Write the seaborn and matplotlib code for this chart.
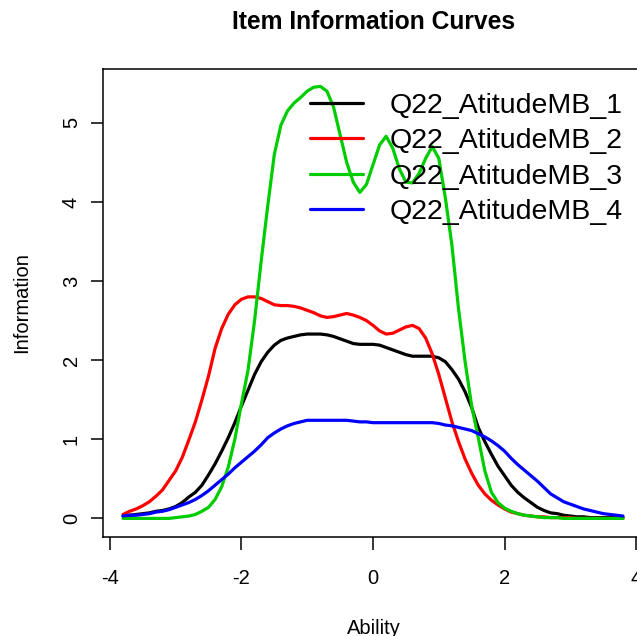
import numpy as np
import pandas as pd
import matplotlib
matplotlib.use("Agg")
import matplotlib.pyplot as plt
from matplotlib.lines import Line2D
import seaborn as sns

# Ability grid (-3.8 .. 3.8, step 0.1)
ability = np.round(np.linspace(-3.8, 3.8, 77), 1)

items = ["Q22_AtitudeMB_1", "Q22_AtitudeMB_2", "Q22_AtitudeMB_3", "Q22_AtitudeMB_4"]
colors = ["#000000", "#FF0000", "#00CD00", "#0000FF"]

info_q1 = [0.03, 0.04, 0.05, 0.06, 0.07, 0.09, 0.10, 0.12, 0.15, 0.20,
           0.27, 0.33, 0.42, 0.55, 0.69, 0.85, 1.02, 1.21, 1.42, 1.62,
           1.82, 1.98, 2.10, 2.19, 2.25, 2.28, 2.30, 2.32, 2.33, 2.33,
           2.33, 2.32, 2.30, 2.27, 2.24, 2.21, 2.20, 2.20, 2.20, 2.19,
           2.16, 2.13, 2.10, 2.07, 2.05, 2.05, 2.05, 2.05, 2.03, 1.98,
           1.88, 1.76, 1.60, 1.40, 1.15, 0.97, 0.81, 0.66, 0.54, 0.42,
           0.33, 0.26, 0.20, 0.14, 0.10, 0.07, 0.06, 0.04, 0.03, 0.02,
           0.02, 0.01, 0.01, 0.01, 0.01, 0.01, 0.01]

info_q2 = [0.05, 0.09, 0.12, 0.16, 0.21, 0.28, 0.36, 0.48, 0.60, 0.77,
           0.99, 1.22, 1.50, 1.80, 2.15, 2.40, 2.58, 2.70, 2.77, 2.80,
           2.80, 2.78, 2.74, 2.70, 2.69, 2.69, 2.68, 2.66, 2.63, 2.60,
           2.56, 2.54, 2.55, 2.57, 2.59, 2.57, 2.54, 2.50, 2.44, 2.37,
           2.33, 2.34, 2.38, 2.42, 2.44, 2.40, 2.28, 2.08, 1.82, 1.52,
           1.22, 0.97, 0.75, 0.57, 0.42, 0.31, 0.23, 0.17, 0.12, 0.08,
           0.06, 0.04, 0.03, 0.02, 0.02, 0.01, 0.01, 0.01, 0.01, 0.00,
           0.00, 0.00, 0.00, 0.00, 0.00, 0.00, 0.00]

info_q3 = [0.00, 0.00, 0.00, 0.00, 0.00, 0.00, 0.00, 0.00, 0.01, 0.02,
           0.03, 0.05, 0.09, 0.14, 0.24, 0.40, 0.65, 1.00, 1.45, 1.87,
           2.50, 3.25, 3.95, 4.60, 4.97, 5.15, 5.25, 5.32, 5.40, 5.45,
           5.46, 5.40, 5.20, 4.85, 4.50, 4.25, 4.12, 4.22, 4.47, 4.72,
           4.83, 4.68, 4.42, 4.25, 4.24, 4.36, 4.55, 4.70, 4.55, 4.05,
           3.45, 2.65, 1.98, 1.42, 1.02, 0.60, 0.33, 0.20, 0.13, 0.09,
           0.06, 0.04, 0.03, 0.02, 0.01, 0.01, 0.01, 0.00, 0.00, 0.00,
           0.00, 0.00, 0.00, 0.00, 0.00, 0.00, 0.00]

info_q4 = [0.03, 0.04, 0.04, 0.05, 0.06, 0.08, 0.09, 0.11, 0.14, 0.17,
           0.20, 0.24, 0.29, 0.35, 0.42, 0.49, 0.56, 0.64, 0.71, 0.78,
           0.85, 0.93, 1.02, 1.08, 1.13, 1.17, 1.20, 1.22, 1.24, 1.24,
           1.24, 1.24, 1.24, 1.24, 1.24, 1.23, 1.22, 1.22, 1.21, 1.21,
           1.21, 1.21, 1.21, 1.21, 1.21, 1.21, 1.21, 1.21, 1.20, 1.18,
           1.17, 1.15, 1.13, 1.11, 1.07, 1.03, 0.98, 0.92, 0.85, 0.76,
           0.68, 0.61, 0.54, 0.47, 0.39, 0.31, 0.26, 0.21, 0.18, 0.15,
           0.12, 0.10, 0.08, 0.06, 0.05, 0.04, 0.03]

df = pd.concat([
    pd.DataFrame({"Ability": ability, "Information": vals, "Item": name})
    for name, vals in zip(items, [info_q1, info_q2, info_q3, info_q4])
])

sns.set_theme(style="ticks")
plt.rcParams["font.family"] = ["Liberation Sans", "DejaVu Sans"]
plt.rcParams["text.color"] = "black"
plt.rcParams["axes.labelcolor"] = "black"

fig = plt.figure(figsize=(6.37, 6.36), dpi=100)
W, H = 637, 636
left, right, top, bottom = 103, 643, 69, 537
ax = fig.add_axes([left / W, 1 - bottom / H, (right - left) / W, (bottom - top) / H])

sns.lineplot(data=df, x="Ability", y="Information", hue="Item",
             palette=dict(zip(items, colors)), estimator=None,
             linewidth=2.3, legend=False, ax=ax)

ax.set_xlim(-4.104, 4.104)
ax.set_ylim(-0.235, 5.68)
ax.set_xticks([-4, -2, 0, 2, 4])
ax.set_yticks([0, 1, 2, 3, 4, 5])
ax.set_xticklabels(["-4", "-2", "0", "2", "4"])
ax.tick_params(axis="both", direction="out", length=9, width=1.1,
               labelsize=14.5, colors="black", labelcolor="black")
ax.tick_params(axis="x", pad=14)
ax.tick_params(axis="y", pad=7)
for lab in ax.get_yticklabels():
    lab.set_rotation(90)
    lab.set_va("center")
for sp in ax.spines.values():
    sp.set_visible(True)
    sp.set_linewidth(1.1)
    sp.set_color("black")

ax.set_xlabel("")
ax.set_ylabel("")
fig.text(374 / W, 1 - 628 / H, "Ability", ha="center", va="center", fontsize=14.5)
fig.text(22 / W, 1 - 303 / H, "Information", ha="center", va="center",
         rotation=90, fontsize=14.5)
fig.text(374 / W, 1 - 22 / H, "Item Information Curves", ha="center", va="center",
         fontsize=17.7, fontweight="bold")

handles = [Line2D([0], [0], color=c, lw=2.3) for c in colors]
ax.legend(handles, items, loc="upper left", bbox_to_anchor=(310 / W, 1 - 93 / H),
          bbox_transform=fig.transFigure, frameon=False, fontsize=20.5,
          handlelength=1.85, handletextpad=0.95, labelspacing=0.33,
          borderpad=0, borderaxespad=0)

fig.savefig("out.png", dpi=100)
